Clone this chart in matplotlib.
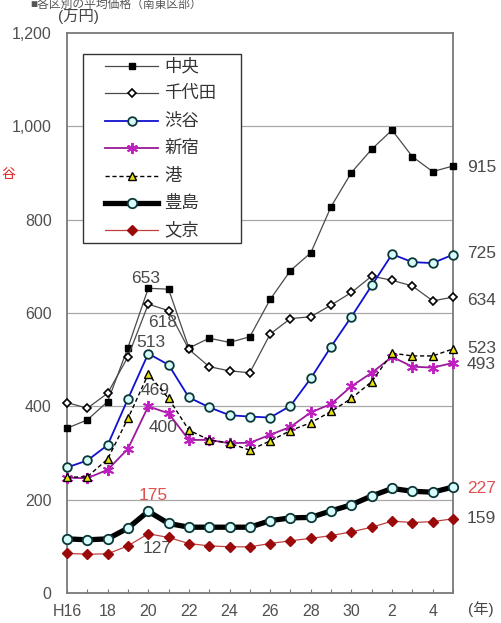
import matplotlib
matplotlib.use("Agg")
import matplotlib.pyplot as plt
from matplotlib.lines import Line2D
from matplotlib.patches import Rectangle

plt.rcParams['font.family'] = ['Liberation Sans', 'Noto Sans CJK JP', 'DejaVu Sans']

years = ["H16", "", "18", "", "20", "", "22", "", "24", "", "26", "", "28", "", "30", "", "2", "", "4", ""]

chuo     = [353, 371, 410, 526, 653, 651, 525, 546, 537, 549, 629, 691, 729, 828, 901, 951, 992, 935, 903, 915]
chiyoda  = [408, 396, 428, 506, 619, 605, 522, 485, 476, 472, 555, 588, 592, 617, 644, 679, 670, 658, 626, 634]
shibuya  = [269, 284, 317, 416, 513, 489, 419, 398, 381, 378, 376, 401, 460, 528, 592, 659, 726, 709, 707, 725]
shinjuku = [247, 246, 264, 309, 400, 385, 328, 328, 321, 322, 339, 356, 387, 405, 443, 472, 506, 485, 483, 493]
minato   = [248, 249, 287, 374, 469, 417, 349, 328, 321, 306, 326, 348, 365, 389, 417, 453, 514, 508, 508, 523]
toshima  = [116, 114, 116, 139, 175, 149, 141, 141, 141, 141, 155, 161, 162, 176, 189, 208, 224, 218, 216, 227]
bunkyo   = [85, 83, 84, 101, 127, 119, 106, 101, 99, 99, 106, 112, 117, 123, 131, 141, 154, 151, 153, 159]

names = ["中央", "千代田", "渋谷", "新宿", "港", "豊島", "文京"]
yticks = [0, 200, 400, 600, 800, 1000, 1200]
ytick_labels = ["0", "200", "400", "600", "800", "1,000", "1,200"]

W, H = 501, 623
fig = plt.figure(figsize=(W / 100, H / 100), dpi=100)
ax = fig.add_axes([67 / W, (H - 593) / H, (453 - 67) / W, (593 - 33) / H])

x = list(range(len(chuo)))
styles = [
    dict(color="#4a4a4a", lw=0.9, marker="s", ms=4.6, mfc="black", mec="black", zorder=5),
    dict(color="#4a4a4a", lw=0.9, marker="D", ms=4.3, mfc="white", mec="black", mew=1.2, zorder=5),
    dict(color="#1010d0", lw=1.3, marker="o", ms=6.2, mfc="#d8fbfb", mec="#0c3838", mew=1.3, zorder=6),
    dict(color="#9a1a9a", lw=1.3, marker=(6, 2, 0), ms=8, mfc="#c020c0", mec="#c020c0", mew=1.4, zorder=6),
    dict(color="black", lw=1.0, ls=(0, (3, 2)), marker="^", ms=5.6, mfc="#e8e010", mec="black", mew=1.0, zorder=6),
    dict(color="black", lw=3.8, marker="o", ms=6.8, mfc="#d8fbfb", mec="#0c3838", mew=1.3, zorder=4),
    dict(color="#c04040", lw=0.9, marker="D", ms=5.0, mfc="#9a0a0a", mec="#9a0a0a", zorder=4),
]
series = [chuo, chiyoda, shibuya, shinjuku, minato, toshima, bunkyo]
for s, st in zip(series, styles):
    ax.plot(x, s, **st, clip_on=False)

ax.set_xlim(0, len(x) - 1)
ax.set_ylim(0, 1200)
ax.set_yticks(yticks)
ax.set_yticklabels(ytick_labels)
ax.set_xticks(x)
ax.set_xticklabels(years)
for g in [200, 400, 600, 800, 1000]:
    ax.axhline(g, color="#a8a8a8", lw=0.9, zorder=1)
ax.tick_params(axis="y", length=0, pad=11, labelsize=11.5, labelcolor="#505050")
ax.tick_params(axis="x", direction="in", length=3, width=0.8, color="#777777", pad=8,
               labelsize=11.5, labelcolor="#505050")
for sp in ax.spines.values():
    sp.set_color("#7a7a7a")
    sp.set_linewidth(1.3)

# data labels
lab = dict(textcoords="offset pixels", fontsize=12.5, color="#4a4a4a", ha="center", va="center")
ax.annotate("653", (4, chuo[4]), xytext=(-3, 10), **lab)
ax.annotate("618", (4, chiyoda[4]), xytext=(14, -18), **lab)
ax.annotate("513", (4, shibuya[4]), xytext=(3, 11), **lab)
ax.annotate("469", (4, minato[4]), xytext=(7, -16), **lab)
ax.annotate("400", (4, shinjuku[4]), xytext=(15, -21), **lab)
ax.annotate("175", (4, toshima[4]), xytext=(5, 16), **{**lab, "color": "#e05050"})
ax.annotate("127", (4, bunkyo[4]), xytext=(9, -15), **lab)
rl = dict(textcoords="offset pixels", fontsize=12.5, color="#4a4a4a", ha="left", va="center",
          annotation_clip=False)
ax.annotate("915", (19, chuo[19]), xytext=(14, -2), **rl)
ax.annotate("725", (19, shibuya[19]), xytext=(14, 1), **rl)
ax.annotate("634", (19, chiyoda[19]), xytext=(14, -3), **rl)
ax.annotate("523", (19, minato[19]), xytext=(14, 0), **rl)
ax.annotate("493", (19, shinjuku[19]), xytext=(14, -2), **rl)
ax.annotate("227", (19, toshima[19]), xytext=(14, -1), **{**rl, "color": "#e05050"})
ax.annotate("159", (19, bunkyo[19]), xytext=(14, 0), **rl)

def fx(px):
    return px / W

def fy(py):
    return 1 - py / H

# manual legend
fig.add_artist(Rectangle((fx(83), fy(243)), fx(241) - fx(83), fy(54) - fy(243),
                         transform=fig.transFigure, fill=True, fc="white", ec="#333333",
                         lw=1.0, zorder=10))
rows = [66, 93, 121, 148, 176, 203, 230]
for name, st, ry in zip(names, styles, rows):
    st2 = {k: v for k, v in st.items() if k != "zorder"}
    fig.add_artist(Line2D([fx(105), fx(158)], [fy(ry), fy(ry)], transform=fig.transFigure,
                          markevery=[], zorder=11, **st2))
    st3 = {k: v for k, v in st2.items() if k not in ("lw", "ls")}
    fig.add_artist(Line2D([fx(131.5)], [fy(ry)], transform=fig.transFigure, ls="none",
                          zorder=12, **st3))
    fig.text(fx(164), fy(ry), name, fontsize=12.5, color="#333333", va="center", ha="left",
             zorder=13)

fig.text(fx(58), fy(17), "(万円)", fontsize=11, color="#444444", va="center", ha="left")
fig.text(fx(481), fy(609), "(年)", fontsize=11, color="#444444", va="center", ha="center")
fig.text(fx(30), fy(5), "■各区別の平均価格（南東区部）", fontsize=8.5, color="#555555",
         va="center", ha="left")
fig.text(fx(1), fy(174), "谷", fontsize=10, color="#e02020", va="center", ha="left")

fig.savefig("out.png", dpi=100)
